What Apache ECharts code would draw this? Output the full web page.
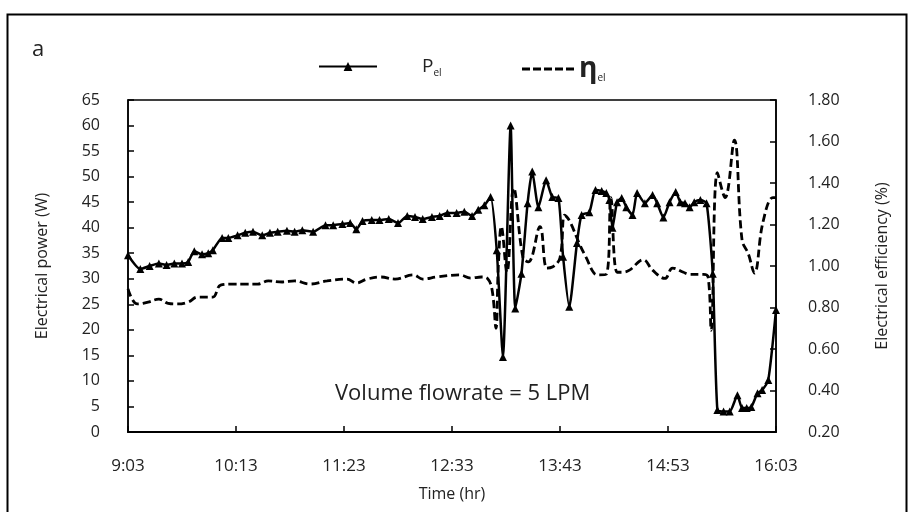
<!DOCTYPE html>
<html lang="en">
<head>
<meta charset="UTF-8">
<title>Electrical power and efficiency</title>
<script src="https://cdn.jsdelivr.net/npm/echarts@6/dist/echarts.min.js"></script>
<style>
  html, body { margin: 0; padding: 0; background: #fff; }
  #main { width: 909px; height: 512px; }
</style>
</head>
<body>
<div id="main"></div>
<script>
// minutes after 9:03
var timeLabels = ['9:03', '10:13', '11:23', '12:33', '13:43', '14:53', '16:03'];

var powerTime = [0, 8, 14, 20, 25, 30, 35, 39, 43, 48, 52, 55, 61, 65, 71, 76, 81, 87, 92, 97,
  103, 108, 113, 120, 128, 133, 139, 144, 148, 152, 158, 163, 169, 175, 181, 186, 191, 197, 202, 207,
  213, 218, 223, 227, 231, 235, 239, 243, 248, 251, 255, 259, 262, 266, 271, 275, 279, 282, 286, 291,
  294, 299, 303, 307, 310, 312, 314, 317, 320, 323, 327, 330, 335, 340, 343, 347, 351, 355, 358, 361,
  364, 367, 371, 375, 379, 382, 386, 390, 395, 398, 401, 404, 408, 411, 415, 420];
var powerVal = [34.6, 31.9, 32.5, 33, 32.7, 33, 33, 33.3, 35.4, 34.8, 35, 35.6, 38, 38, 38.5, 39, 39.2, 38.5, 39, 39.2,
  39.4, 39.2, 39.5, 39.2, 40.5, 40.5, 40.7, 40.9, 39.7, 41.3, 41.5, 41.5, 41.7, 40.9, 42.3, 42.1, 41.7, 42.1, 42.3, 42.9,
  42.9, 43.1, 42.3, 43.5, 44.4, 46, 35.6, 14.7, 60, 24.2, 31, 44.8, 51, 44, 49.3, 46, 45.8, 34.3, 24.5, 37,
  42.5, 43, 47.4, 47.2, 46.8, 45.4, 40, 45, 45.8, 44, 42.5, 46.8, 44.8, 46.4, 44.8, 42, 45, 47, 45, 44.8,
  44, 45, 45.4, 44.8, 31, 4.3, 4, 4, 7.2, 4.7, 4.7, 4.9, 7.6, 8.2, 10.2, 23.9];

var effTime = [0, 6, 13, 20, 26, 32, 39, 45, 50, 55, 60, 67, 76, 84, 91, 100, 108, 118, 129, 142,
  148, 155, 164, 173, 185, 191, 200, 215, 222, 229, 233, 236, 238.5, 240, 242, 245.6, 250, 256, 259.5, 267,
  271.5, 275, 280, 283, 286, 293, 297, 302, 305, 310, 313, 317, 321, 325, 334, 340, 348, 353, 360, 364,
  373, 376, 378, 382, 387, 393, 398, 402, 406, 411.5, 418, 420];
var effVal = [0.89, 0.817, 0.826, 0.84, 0.82, 0.817, 0.826, 0.85, 0.85, 0.85, 0.908, 0.913, 0.913, 0.913, 0.928, 0.923, 0.928, 0.913, 0.928, 0.937,
  0.918, 0.937, 0.947, 0.937, 0.957, 0.937, 0.947, 0.957, 0.942, 0.947, 0.94, 0.884, 0.70, 0.995, 1.19, 0.97, 1.376, 1.04, 1.02, 1.19,
  0.99, 0.995, 1.04, 1.245, 1.22, 1.1, 1.04, 0.966, 0.957, 0.96, 1.33, 0.97, 0.97, 0.98, 1.03, 0.98, 0.94, 0.99, 0.97, 0.96,
  0.96, 0.947, 0.69, 1.45, 1.33, 1.607, 1.125, 1.06, 0.966, 1.21, 1.33, 1.33];

function pairs(xs, ys) {
  var out = [];
  for (var i = 0; i < xs.length; i++) out.push([xs[i], ys[i]]);
  return out;
}

var FONT = 'Open Sans';
// dashed legend key: 5 short dashes
var dashIcon = 'path://M0,0h8v3h-8z M11,0h8v3h-8z M22,0h8v3h-8z M33,0h8v3h-8z M44,0h8v3h-8z';

var myChart = echarts.init(document.getElementById('main'));

var option = {
  animation: false,
  backgroundColor: '#fff',
  textStyle: { fontFamily: FONT, color: '#222' },
  grid: {
    left: 128, right: 133, top: 100, bottom: 80,
    show: true, borderColor: '#000', borderWidth: 1.5
  },
  legend: [
    {
      data: ['Pel'], left: 313, top: 52, itemWidth: 58, itemHeight: 11,
      formatter: function () { return '{g|}{p|P}{s|el}'; },
      textStyle: {
        color: '#222',
        rich: {
          g: { width: 40 },
          p: { fontSize: 19, fontFamily: FONT },
          s: { fontSize: 10, fontFamily: FONT, padding: [14, 0, 0, 0] }
        }
      }
    },
    {
      data: [{ name: 'ηel', icon: dashIcon }], left: 517, top: 50, itemWidth: 52, itemHeight: 3,
      formatter: function () { return '{e|η}{s|el}'; },
      textStyle: {
        color: '#222',
        rich: {
          e: { fontSize: 28, fontWeight: 'bold', fontFamily: FONT },
          s: { fontSize: 10, fontFamily: FONT, padding: [18, 0, 0, 0] }
        }
      }
    }
  ],
  xAxis: {
    type: 'value', min: 0, max: 420, interval: 70,
    name: 'Time (hr)', nameLocation: 'middle', nameGap: 54,
    nameTextStyle: { fontSize: 16, color: '#222' },
    axisLine: { lineStyle: { color: '#000', width: 2 } },
    axisTick: { inside: true, length: 6, lineStyle: { color: '#000', width: 1.5 } },
    axisLabel: {
      margin: 26, fontSize: 17, color: '#222',
      formatter: function (v) { return timeLabels[Math.round(v / 70)]; }
    },
    splitLine: { show: false }
  },
  yAxis: [
    {
      type: 'value', min: 0, max: 65, interval: 5, position: 'left',
      name: 'Electrical power (W)', nameLocation: 'middle', nameGap: 78,
      nameTextStyle: { fontSize: 16, color: '#222' },
      axisLine: { show: true, lineStyle: { color: '#000', width: 1.5 } },
      axisTick: { show: true, inside: true, length: 6, lineStyle: { color: '#000', width: 1.5 } },
      axisLabel: { margin: 28, fontSize: 16, color: '#222' },
      splitLine: { show: false }
    },
    {
      type: 'value', min: 0.2, max: 1.8, interval: 0.2, position: 'right',
      name: 'Electrical efficiency (%)', nameLocation: 'middle', nameGap: 98,
      nameRotate: 90,
      nameTextStyle: { fontSize: 16, color: '#222' },
      axisLine: { show: true, lineStyle: { color: '#000', width: 1.5 } },
      axisTick: { show: true, inside: true, length: 6, lineStyle: { color: '#000', width: 1.5 } },
      axisLabel: { margin: 32, fontSize: 16, color: '#222', formatter: function (v) { return v.toFixed(2); } },
      splitLine: { show: false }
    }
  ],
  series: [
    {
      name: 'Pel', type: 'line', yAxisIndex: 0,
      data: pairs(powerTime, powerVal),
      smooth: 0.2,
      symbol: 'triangle', symbolSize: 8,
      itemStyle: { color: '#000' },
      lineStyle: { color: '#000', width: 2.5 }
    },
    {
      name: 'ηel', type: 'line', yAxisIndex: 1,
      data: pairs(effTime, effVal),
      smooth: 0.4,
      symbol: 'none',
      itemStyle: { color: '#000' },
      lineStyle: { color: '#000', width: 2.8, type: [8, 4] }
    }
  ],
  graphic: [
    {
      type: 'rect', left: 5, top: 12, silent: true,
      shape: { width: 899, height: 520 },
      style: { fill: 'none', stroke: '#000', lineWidth: 2 }
    },
    {
      type: 'text', left: 32, top: 39,
      style: { text: 'a', fontSize: 22, fontFamily: FONT, fill: '#222' }
    },
    {
      type: 'text', left: 335, top: 383,
      style: { text: 'Volume flowrate = 5 LPM', fontSize: 22, fontFamily: FONT, fill: '#222' }
    }
  ]
};

myChart.setOption(option);
</script>
</body>
</html>
